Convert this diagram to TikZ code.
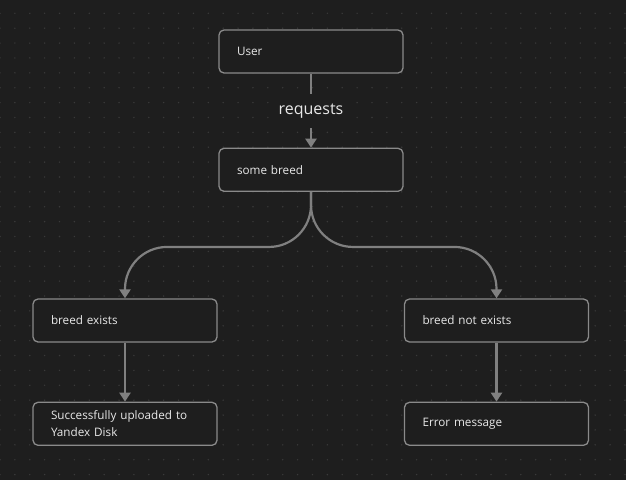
\documentclass[tikz,border=0pt]{standalone}
\usepackage{fontspec}
\setmainfont{Open Sans}
\usepackage{tikz}
\usetikzlibrary{arrows.meta,positioning}
\definecolor{bg}{HTML}{1E1E1E}
\definecolor{griddot}{HTML}{3A3A3A}
\definecolor{edgegray}{HTML}{808080}
\definecolor{boxline}{HTML}{8A8A8A}
\definecolor{textgray}{HTML}{E8E8E8}

\begin{document}
\begin{tikzpicture}[x=1pt,y=-1pt,>={Triangle[width=11pt,length=9pt]},
                    font=\fontsize{11.7}{17.5}\selectfont]
  \tikzstyle{box}=[rectangle,draw=boxline,line width=1.3pt,fill=bg,rounded corners=5pt,
                   text=textgray,align=left,text width=148pt,inner xsep=18pt,
                   minimum height=43pt]
  \tikzstyle{flow}=[->,draw=edgegray,line width=2.2pt]
  \tikzstyle{lbl}=[fill=bg,text=textgray,font=\fontsize{16}{18}\selectfont,
                   minimum height=34pt,inner xsep=2pt]

  % background and dot grid
  \fill[bg] (0,0) rectangle (626,480);
  \useasboundingbox (0,0) rectangle (626,480);
  \foreach \i in {0,...,42}
    \foreach \j in {0,...,31}
      \fill[griddot] (\i*14.88,13.3+\j*14.88) circle (0.8pt);

  \node[box] (user)                      at (311,51.5)  {User};
  \node[box] (breed)     [below=74pt of user]           {some breed};
  \node[box] (exists)                    at (125,320.5) {breed exists};
  \node[box] (notexists)                 at (496.5,320.5) {breed not exists};
  \node[box] (uploaded)  [below=59pt of exists]         {Successfully uploaded to\\Yandex Disk};
  \node[box] (error)     [below=59pt of notexists]      {Error message};

  \draw[flow] (user) -- node[lbl] {requests} (breed);
  \draw[flow,rounded corners=42pt] (breed.south) -- ++(0,55) -| (exists.north);
  \draw[flow,rounded corners=42pt] (breed.south) -- ++(0,55) -| (notexists.north);
  \draw[flow] (exists) -- (uploaded);
  \draw[flow] (notexists) -- (error);
\end{tikzpicture}
\end{document}
